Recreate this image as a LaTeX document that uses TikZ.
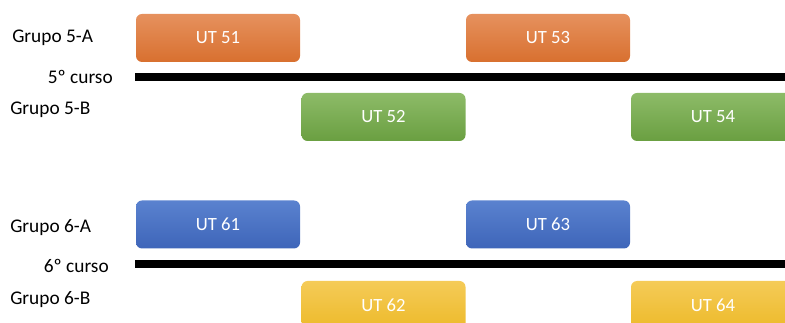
\documentclass[tikz,border=0pt]{standalone}
\usepackage{fontspec}
\setmainfont{Carlito}
\usepackage{tikz}
\usetikzlibrary{positioning}

\definecolor{naranjaA}{HTML}{E6915E}
\definecolor{naranjaB}{HTML}{D8702F}
\definecolor{verdeA}{HTML}{8DBB68}
\definecolor{verdeB}{HTML}{6A9F41}
\definecolor{azulA}{HTML}{5A82CF}
\definecolor{azulB}{HTML}{3E65B9}
\definecolor{amarilloA}{HTML}{F5CB58}
\definecolor{amarilloB}{HTML}{EDBA2A}

\tikzset{
	ut/.style={rounded corners=4.5pt, minimum width=123pt, minimum height=36pt,
		inner sep=0pt, text=white, font=\fontsize{14}{16}\selectfont},
	utnaranja/.style={ut, top color=naranjaA, bottom color=naranjaB},
	utverde/.style={ut, top color=verdeA, bottom color=verdeB},
	utazul/.style={ut, top color=azulA, bottom color=azulB},
	utamarillo/.style={ut, top color=amarilloA, bottom color=amarilloB},
	etiqueta/.style={inner sep=0pt, font=\fontsize{14.5}{16}\selectfont},
	curso/.style={line width=6pt}
}

\begin{document}
\begin{tikzpicture}
	[x=0.75pt, y=-0.75pt]
	\useasboundingbox (0,0) rectangle (785,323);
	\clip (0,0) rectangle (785,323);
	% 5º curso
	\node[etiqueta, anchor=west] (g5a) at (12,38) {Grupo 5-A};
	\node[etiqueta, anchor=east] (c5) at (113,77) {5º curso};
	\node[etiqueta, anchor=west] (g5b) at (10,110) {Grupo 5-B};
	\node[utnaranja] (ut51) at (218,38) {UT 51};
	\node[utnaranja] (ut53) at (548,38) {UT 53};
	\node[utverde] (ut52) at (383.5,117) {UT 52};
	\node[utverde] (ut54) at (713,117) {UT 54};
	\draw[curso] (135,77.5) -- (785,77.5);
	% 6º curso
	\node[etiqueta, anchor=west] (g6a) at (10,228) {Grupo 6-A};
	\node[etiqueta, anchor=east] (c6) at (109,266) {6º curso};
	\node[etiqueta, anchor=west] (g6b) at (10,300) {Grupo 6-B};
	\node[utazul] (ut61) at (218,224.5) {UT 61};
	\node[utazul] (ut63) at (548,224.5) {UT 63};
	\node[utamarillo] (ut62) at (383.5,305) {UT 62};
	\node[utamarillo] (ut64) at (713,305) {UT 64};
	\draw[curso] (135,264.5) -- (785,264.5);
\end{tikzpicture}
\end{document}
